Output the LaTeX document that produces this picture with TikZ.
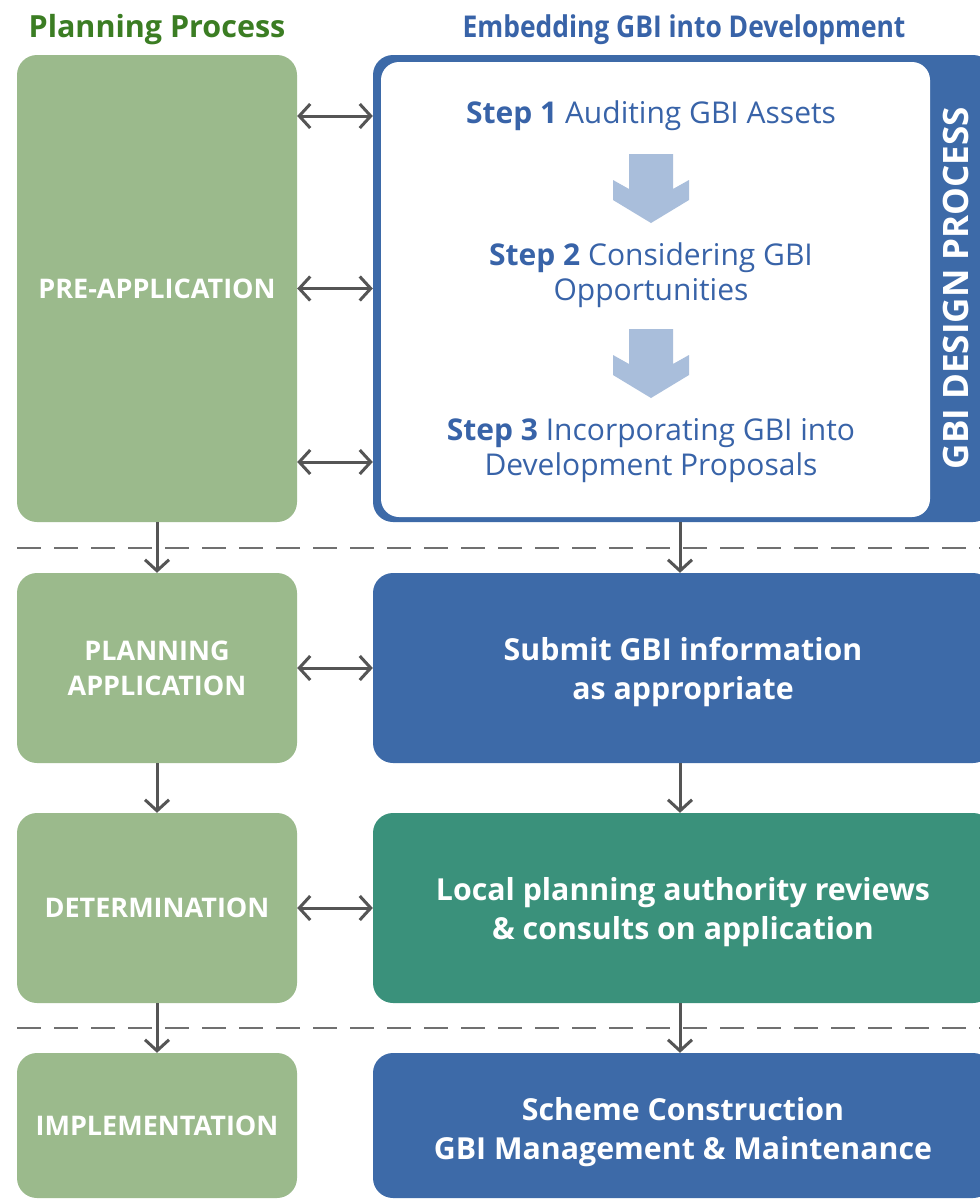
\documentclass[tikz,border=0pt]{standalone}
\usepackage{fontspec}
\setmainfont{Open Sans}
\usetikzlibrary{arrows.meta}
\definecolor{planGreen}{HTML}{9BBA8C}
\definecolor{titleGreen}{HTML}{3B7D23}
\definecolor{gbiBlue}{HTML}{3D6AA8}
\definecolor{stepBlue}{HTML}{3863A8}
\definecolor{lpaTeal}{HTML}{3A917B}
\definecolor{pointerBlue}{HTML}{A9BEDB}
\definecolor{linkGrey}{HTML}{555555}
\definecolor{dashGrey}{HTML}{707070}
\tikzset{
  stagebox/.style={rounded corners=20pt, fill=planGreen, text=white, align=center,
    minimum width=280pt, inner sep=0pt, font=\bfseries\fontsize{27}{35}\selectfont},
  actionbox/.style={rounded corners=20pt, minimum width=620pt, inner sep=0pt},
  actiontext/.style={text=white, align=center, inner sep=0pt,
    font=\bfseries\fontsize{30.3}{39}\selectfont},
  steptext/.style={text=stepBlue, align=center, inner sep=0pt,
    font=\fontsize{30}{35}\selectfont},
  link/.style={draw=linkGrey, line width=3pt,
    {Straight Barb[length=11pt,width=24pt]}-{Straight Barb[length=11pt,width=24pt]}},
  flow/.style={draw=linkGrey, line width=3pt, -{Straight Barb[length=11pt,width=24pt]}},
  divider/.style={draw=dashGrey, line width=2pt, dash pattern=on 24pt off 13pt}
}
\begin{document}
\begin{tikzpicture}[x=1pt,y=-1pt]
\useasboundingbox (0,0) rectangle (980,1200);
\clip (0,0) rectangle (980,1200);
\fill[white] (0,0) rectangle (980,1200);

% column titles
\node[text=titleGreen, font=\bfseries\fontsize{30.5}{30}\selectfont] (ptitle) at (157,30)
  {Planning Process};
\node[text=stepBlue, font=\bfseries\fontsize{30}{30}\selectfont] (etitle) at (684,30)
  {\scalebox{0.88}[1]{Embedding GBI into Development}};

% planning process
\node[stagebox, minimum height=467pt] (pre) at (157,288.5) {PRE-APPLICATION};
\node[stagebox, minimum height=190pt] (plan) at (157,668) {PLANNING\\APPLICATION};
\node[stagebox, minimum height=190pt] (det) at (157,908) {DETERMINATION};
\node[stagebox, minimum height=145pt] (impl) at (157,1125.5) {IMPLEMENTATION};

% GBI design process
\node[actionbox, fill=gbiBlue, minimum height=467pt] (gbi) at (683,288.5) {};
\node[rounded corners=18pt, fill=white, minimum width=549pt, minimum height=455pt] (inner) at (655.5,289.5) {};
\node[text=white, rotate=90, font=\bfseries\fontsize{35}{35}\selectfont] (design) at (956,288) {GBI DESIGN PROCESS};
\node[steptext] (step1) at (651,116) {\textbf{Step 1} Auditing GBI Assets};
\node[steptext] (step2) at (651,275) {\textbf{Step 2} Considering GBI\\Opportunities};
\node[steptext] (step3) at (651,451) {\textbf{Step 3} Incorporating GBI into\\Development Proposals};
\foreach \t in {154,329}
  \fill[pointerBlue] (629,\t) -- (673,\t) -- (673,\t+35) -- (689,\t+26) -- (689,\t+46)
    -- (651,\t+69) -- (613,\t+46) -- (613,\t+26) -- (629,\t+35) -- cycle;

\node[actionbox, fill=gbiBlue, minimum height=190pt] (subm) at (683,668) {};
\node[actionbox, fill=lpaTeal, minimum height=190pt] (lpa) at (683,908) {};
\node[actionbox, fill=gbiBlue, minimum height=145pt] (build) at (683,1125.5) {};
\node[actiontext] (submtext) at ([yshift=-4pt]subm.center) {Submit GBI information\\as appropriate};
\node[actiontext] (lpatext) at ([yshift=-4pt]lpa.center) {Local planning authority reviews\\\& consults on application};
\node[actiontext] (buildtext) at ([yshift=-7pt]build.center) {Scheme Construction\\GBI Management \& Maintenance};

% stage dividers
\draw[divider] (17,548) -- (980,548);
\draw[divider] (17,1028) -- (980,1028);

% links between columns
\draw[link] (pre.east |- step1) -- (gbi.west |- step1);
\draw[link] (pre.east) -- (gbi.west);
\draw[link] (pre.east |- 0,462) -- (gbi.west |- 0,462);
\draw[link] (plan.east) -- (subm.west);
\draw[link] (det.east) -- (lpa.west);

% flow down
\draw[flow] (pre.south) -- (plan.north);
\draw[flow] (plan.south) -- (det.north);
\draw[flow] (det.south) -- (impl.north);
\draw[flow] ([xshift=-3pt]gbi.south) -- ([xshift=-3pt]subm.north);
\draw[flow] ([xshift=-3pt]subm.south) -- ([xshift=-3pt]lpa.north);
\draw[flow] ([xshift=-3pt]lpa.south) -- ([xshift=-3pt]build.north);
\end{tikzpicture}
\end{document}
